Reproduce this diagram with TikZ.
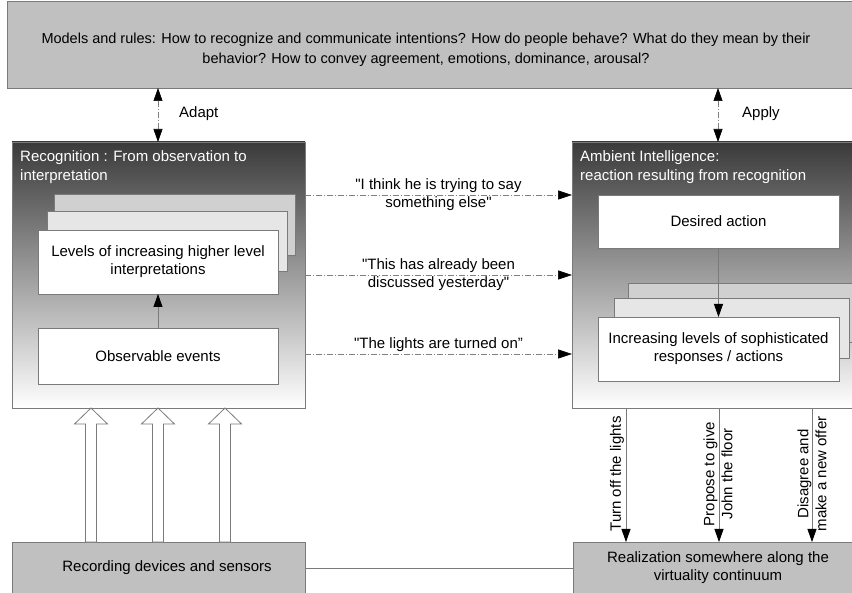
\documentclass[tikz,border=0pt]{standalone}
\usepackage{fontspec}
\newfontfamily\lsans{Liberation Sans}
\usetikzlibrary{arrows.meta,calc}
\definecolor{boxgray}{HTML}{C0C0C0}
\definecolor{edgegray}{HTML}{7A7A7A}
\definecolor{cardA}{HTML}{D0D0D0}
\definecolor{cardB}{HTML}{E6E6E6}
\definecolor{topdark}{HTML}{3A3A3A}
\newcommand\hollowup[1]{%
  \draw[hollow] (#1,408) -- ++(16.5,16) -- ++(-11,0) -- (#1+5.5,542) -- (#1-5.5,542) -- (#1-5.5,424) -- ++(-11,0) -- cycle;}
\begin{document}
\begin{tikzpicture}[x=1pt,y=-1pt,
  font=\lsans\fontsize{15}{18}\selectfont,
  box/.style={draw=edgegray, line width=0.8pt, inner sep=0pt, outer sep=0pt, anchor=north west},
  bigbox/.style={box, top color=topdark, bottom color=white, minimum width=293, minimum height=266},
  title/.style={text=white, anchor=west, align=left, inner sep=0pt, font=\lsans\fontsize{15}{19}\selectfont},
  txt/.style={align=center, inner sep=0pt},
  conn/.style={draw=edgegray, line width=0.8pt, -{Triangle[length=13pt,width=9pt,black]}},
  dd/.style={draw=gray, line width=0.6pt, dash pattern=on 6pt off 2pt on 1pt off 2pt},
  hollow/.style={draw=edgegray, fill=white, line width=0.8pt},
  rot/.style={rotate=90, align=center, inner sep=0pt}
]
\useasboundingbox (0,0) rectangle (852,593);
\clip (0,0) rectangle (852,593);
\fill[white] (0,0) rectangle (852,593);

% top models box
\node[box, fill=boxgray, minimum width=870, minimum height=87] (models) at (7,1) {};
\node[txt, font=\lsans\fontsize{14.5}{20}\selectfont] (modelstxt) at (426,50) {Models and rules: How to recognize and communicate intentions? How do people behave? What do they mean by their\\behavior? How to convey agreement, emotions, dominance, arousal?};

% big boxes
\node[bigbox] (recog) at (12,142) {};
\node[title] (recogt) at (20,167) {Recognition : From observation to\\interpretation};
\node[bigbox] (amb) at (572,142) {};
\node[title] (ambt) at (580,167) {Ambient Intelligence:\\reaction resulting from recognition};

% left cards
\node[box, fill=cardA, minimum width=241, minimum height=61] (lback) at (54,194) {};
\node[box, fill=cardB, minimum width=240, minimum height=60] (lmid) at (47,211) {};
\node[box, fill=white, minimum width=240, minimum height=64] (levels) at (38,230) {};
\node[txt] (levelst) at (levels.center) {Levels of increasing higher level\\interpretations};
\node[box, fill=white, minimum width=240, minimum height=56] (obs) at (38,328) {};
\node[txt] (obst) at (obs.center) {Observable events};
\draw[conn] (obs.north) -- (levels.south);

% right cards
\node[box, fill=white, minimum width=241, minimum height=53] (desired) at (598,195) {};
\node[txt] (desiredt) at (desired.center) {Desired action};
\node[box, fill=cardA, minimum width=240, minimum height=59] (rback) at (628,283) {};
\node[box, fill=cardB, minimum width=235, minimum height=60] (rmid) at (614,298) {};
\node[box, fill=white, minimum width=241, minimum height=64] (resp) at (598,317) {};
\node[txt] (respt) at (resp.center) {Increasing levels of sophisticated\\responses / actions};
\draw[conn] (desired.south) -- (resp.north);

% bottom boxes
\node[box, fill=boxgray, minimum width=293, minimum height=60] (rec) at (12,542) {};
\node[txt] (rect) at (167,568) {Recording devices and sensors};
\node[box, fill=boxgray, minimum width=293, minimum height=60] (real) at (573,542) {};
\node[txt] (realt) at (718,568) {Realization somewhere along the\\virtuality continuum};
\coordinate (ylink) at (0,568);
\draw[draw=edgegray, line width=0.8pt] (rec.east |- ylink) -- (real.west |- ylink);

% adapt / apply
\coordinate (xad) at (158,0);
\coordinate (xap) at (718,0);
\draw[dd, {Triangle[length=13pt,width=9pt,black]}-{Triangle[length=13pt,width=9pt,black]}] (models.south -| xad) -- (recog.north -| xad);
\node[anchor=west, inner sep=0pt] (adapt) at (179,114) {Adapt};
\draw[dd, {Triangle[length=13pt,width=9pt,black]}-{Triangle[length=13pt,width=9pt,black]}] (models.south -| xap) -- (amb.north -| xap);
\node[anchor=west, inner sep=0pt] (apply) at (742,114) {Apply};

% middle dash-dot arrows
\coordinate (y1) at (0,195);
\coordinate (y2) at (0,275);
\coordinate (y3) at (0,354);
\draw[dd, -{Triangle[length=14pt,width=9pt,black]}] (recog.east |- y1) -- node[txt]{"I think he is trying to say\\something else"} (amb.west |- y1);
\draw[dd, -{Triangle[length=14pt,width=9pt,black]}] (recog.east |- y2) -- node[txt]{"This has already been\\discussed yesterday"} (amb.west |- y2);
\draw[dd, -{Triangle[length=14pt,width=9pt,black]}] (recog.east |- y3) -- node[txt, yshift=9pt]{"The lights are turned on”} (amb.west |- y3);

% hollow arrows
\hollowup{91}
\hollowup{158}
\hollowup{225}

% output arrows
\coordinate (xo1) at (626,0);
\coordinate (xo2) at (719,0);
\coordinate (xo3) at (812,0);
\draw[conn] (amb.south -| xo1) -- (real.north -| xo1);
\draw[conn] (amb.south -| xo2) -- (real.north -| xo2);
\draw[conn] (amb.south -| xo3) -- (real.north -| xo3);
\node[rot] (o1) at (617,474) {Turn off the lights};
\node[rot] (o2) at (718,474) {Propose to give\\John the floor};
\node[rot] (o3) at (812,474) {Disagree and\\make a new offer};
\end{tikzpicture}
\end{document}
